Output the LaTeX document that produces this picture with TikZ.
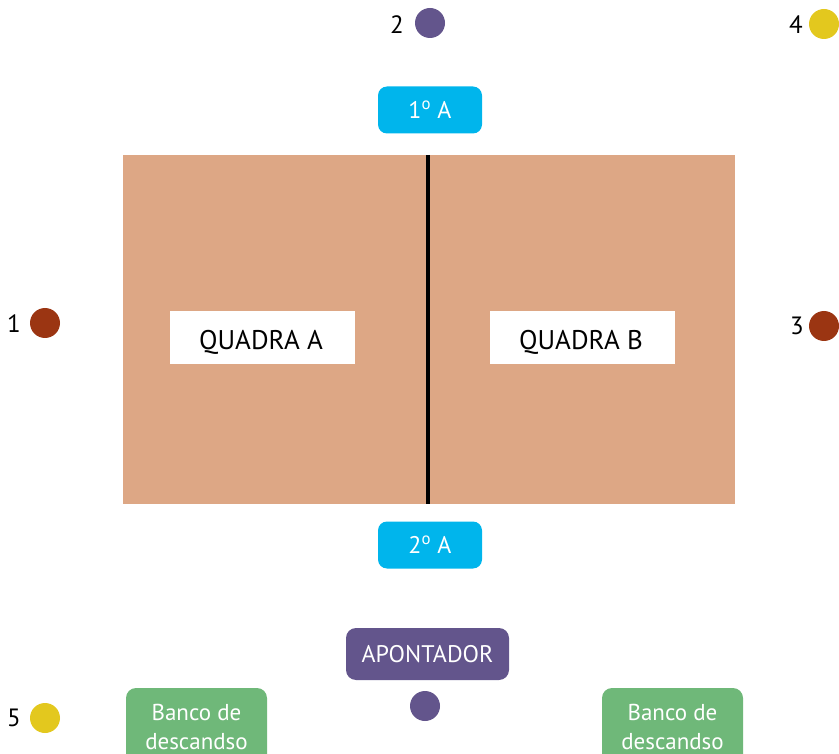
\documentclass[tikz,border=0pt]{standalone}
\usepackage{fontspec}
\setmainfont{PT Sans}
\definecolor{court}{HTML}{DDA785}
\definecolor{cyanbox}{HTML}{00B5EC}
\definecolor{purp}{HTML}{63558C}
\definecolor{brownd}{HTML}{9B3512}
\definecolor{yell}{HTML}{E3C81E}
\definecolor{greenb}{HTML}{6FB879}
\tikzset{
  dot/.style={circle,inner sep=0pt,minimum size=30pt},
  numlbl/.style={font=\fontsize{25}{28}\selectfont,inner sep=0pt},
  whitebox/.style={fill=white,draw=none,minimum width=185pt,minimum height=53pt,inner sep=0pt},
  quadtxt/.style={font=\fontsize{27}{30}\selectfont,inner sep=0pt},
  teambox/.style={fill=cyanbox,rounded corners=9pt,minimum width=104pt,minimum height=47pt,text=white,font=\fontsize{24}{27}\selectfont,inner sep=0pt},
  greenbox/.style={fill=greenb,rounded corners=10pt},
  greentxt/.style={text=white,font=\fontsize{23}{29}\selectfont,align=center,inner sep=0pt}
}
\begin{document}
\begin{tikzpicture}[x=1pt,y=-1pt]
\useasboundingbox (0,0) rectangle (839,754);
% court
\path[fill=court] (123,155) rectangle (735,504);
\coordinate (nettop) at (428,155);
\coordinate (netbot) at (428,504);
\draw[line width=4pt] (nettop) -- (netbot);
\node[whitebox] (qa) at (262.5,337.5) {};
\node[quadtxt] (qat) at (261,342) {QUADRA A};
\node[whitebox] (qb) at (582.5,337.5) {};
\node[quadtxt] (qbt) at (581,342) {QUADRA B};
% teams
\node[teambox] (t1) at (430,110) {1\textsuperscript{o} A};
\node[teambox] (t2) at (430,545) {2\textsuperscript{o} A};
% dots
\node[dot,fill=purp] (d2) at (430,23) {};
\node[numlbl,anchor=east] (l2) at (404,25) {2};
\node[dot,fill=yell] (d4) at (824,24) {};
\node[numlbl,anchor=east] (l4) at (803,25) {4};
\node[dot,fill=brownd] (d1) at (45,323) {};
\node[numlbl,anchor=east] (l1) at (21,324) {1};
\node[dot,fill=brownd] (d3) at (824,326) {};
\node[numlbl,anchor=east] (l3) at (804,326) {3};
\node[dot,fill=yell] (d5) at (45,718) {};
\node[numlbl,anchor=east] (l5) at (21,718) {5};
% apontador
\node[fill=purp,rounded corners=10pt,minimum width=163pt,minimum height=52pt,text=white,font=\fontsize{24}{27}\selectfont,inner sep=0pt] (ap) at (427.5,654) {APONTADOR};
\node[dot,fill=purp] (dap) at (425,706) {};
% bancos
\path[greenbox] (126,688) rectangle (267,780);
\node[greentxt] (b1) at (196.5,727) {Banco de\\descandso};
\path[greenbox] (602,688) rectangle (743,780);
\node[greentxt] (b2) at (672.5,727) {Banco de\\descandso};
\end{tikzpicture}
\end{document}
